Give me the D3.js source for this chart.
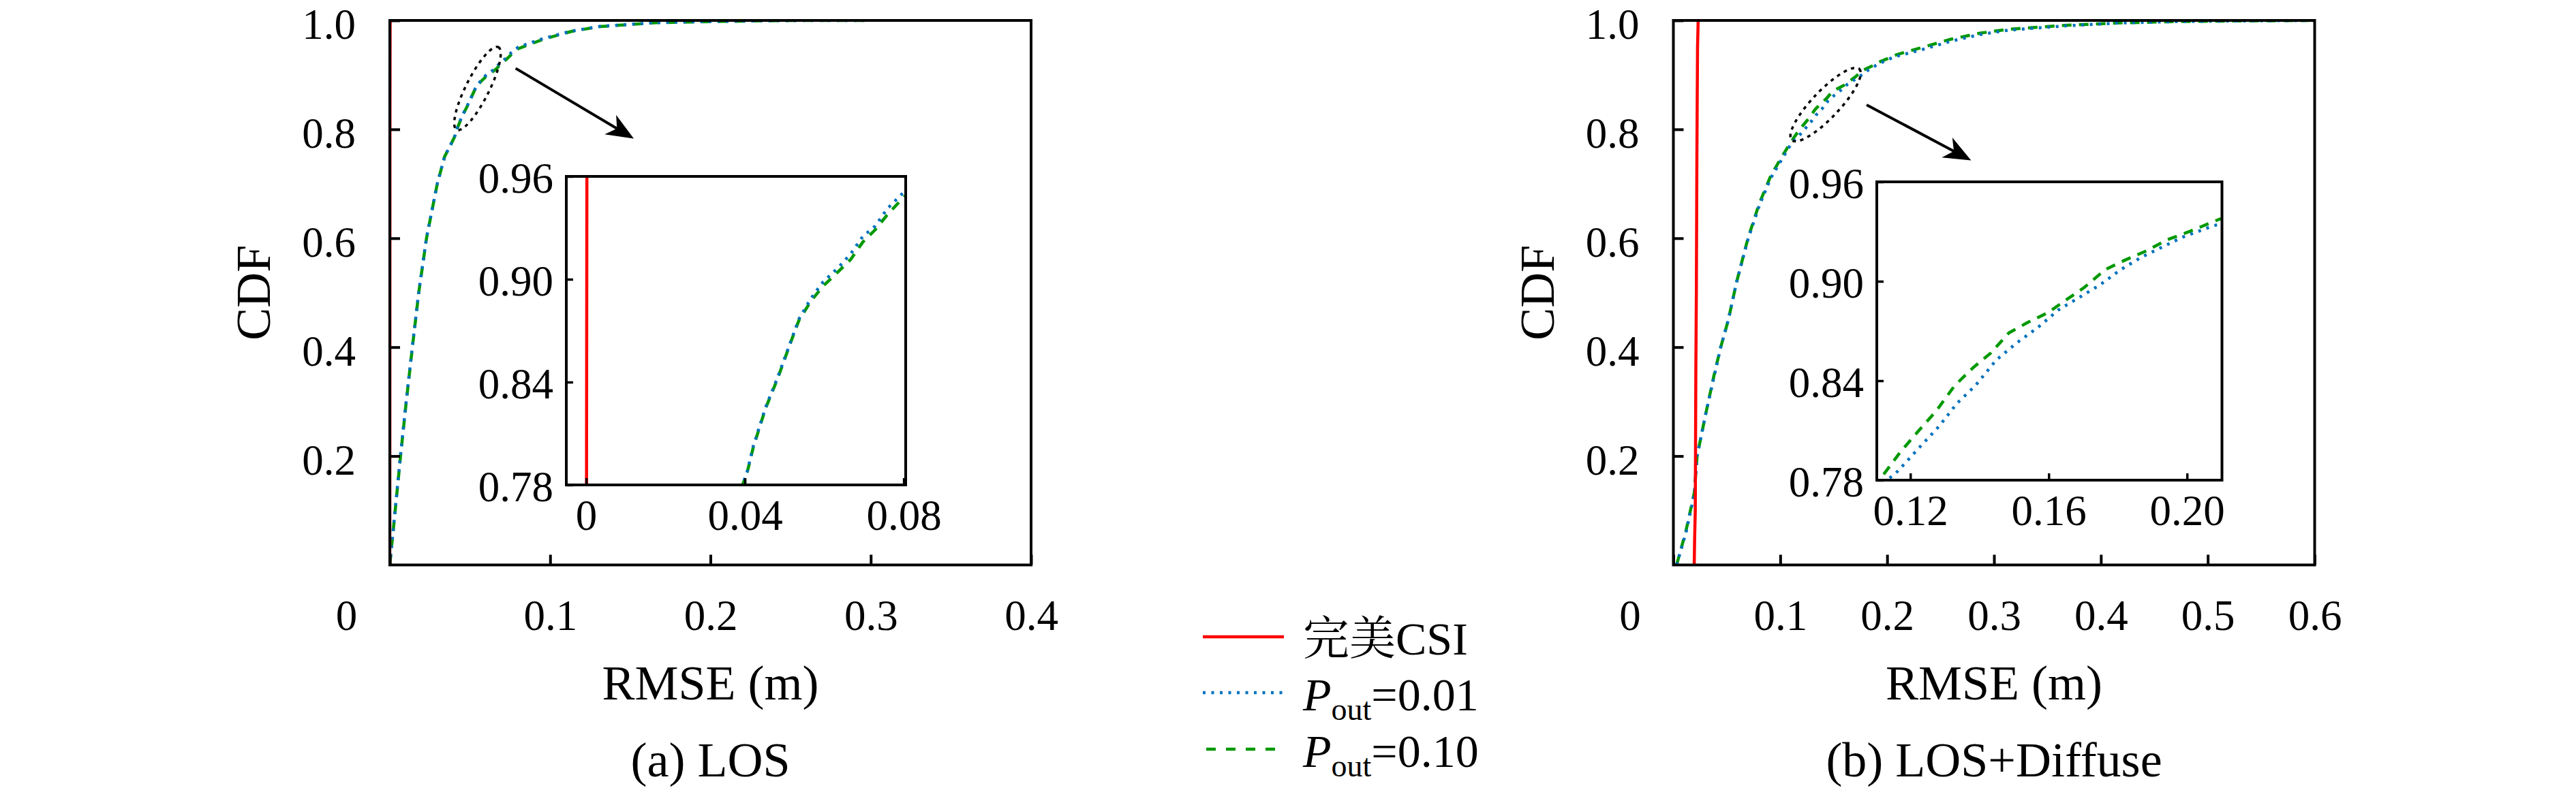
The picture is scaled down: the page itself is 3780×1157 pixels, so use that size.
<!DOCTYPE html>
<html>
<head>
<meta charset="utf-8">
<script src="https://cdn.jsdelivr.net/npm/d3@7/dist/d3.min.js"></script>
<style>
  body { margin: 0; background: #fff; }
  #chart text { font-family: "Liberation Serif", "Noto Serif CJK SC", serif; fill: #000; }
</style>
</head>
<body>
<svg id="chart" width="3780" height="1157"></svg>
<script>
// ---------- values ----------
const seriesLabels = ["完美CSI", "0.01", "0.10"];
const seriesColors = ["#ff0000", "#0072bd", "#009900"];

// (a) LOS
const losPerfectX = [0, 0.0001, 0.0002, 0.0003];
const losPerfectY = [0, 0.80, 0.99, 1.0];
const losP01X = [0, 0.001, 0.0035, 0.0067, 0.0102, 0.0141, 0.018, 0.0229, 0.0296, 0.0342, 0.0394, 0.0406, 0.0421, 0.0452, 0.0482, 0.0513, 0.0536, 0.0567, 0.0597, 0.0636, 0.0667, 0.0697, 0.0728, 0.0758, 0.0801, 0.0959, 0.1135, 0.131, 0.166, 0.2017, 0.237, 0.26, 0.30];
const losP01Y = [0, 0.03, 0.106, 0.202, 0.300, 0.402, 0.500, 0.601, 0.700, 0.750, 0.780, 0.7880, 0.8025, 0.8252, 0.8425, 0.8620, 0.8768, 0.8890, 0.8985, 0.9070, 0.9150, 0.9250, 0.9310, 0.9410, 0.9510, 0.9670, 0.9805, 0.9890, 0.9960, 0.9982, 0.9995, 1.0, 1.0];
const losP10X = [0, 0.001, 0.0035, 0.0067, 0.0102, 0.0141, 0.018, 0.0229, 0.0296, 0.0342, 0.0394, 0.0406, 0.0421, 0.0452, 0.0482, 0.0513, 0.0536, 0.0567, 0.0597, 0.0636, 0.0667, 0.0697, 0.0728, 0.0758, 0.0801, 0.0959, 0.1135, 0.131, 0.166, 0.2017, 0.237, 0.26, 0.30];
const losP10Y = [0, 0.03, 0.104, 0.200, 0.298, 0.400, 0.499, 0.600, 0.700, 0.750, 0.780, 0.7876, 0.8019, 0.8247, 0.8418, 0.8618, 0.8760, 0.8875, 0.8960, 0.9046, 0.9117, 0.9217, 0.9288, 0.9374, 0.9481, 0.9657, 0.9800, 0.9887, 0.9959, 0.9980, 0.9995, 1.0, 1.0];

// (b) LOS+Diffuse
const difPerfectX = [0.0195, 0.0199, 0.0205, 0.0210, 0.0215, 0.0220, 0.0226, 0.0232];
const difPerfectY = [0, 0.05, 0.10, 0.35, 0.50, 0.75, 0.95, 1.0];
const difP01X = [0.003, 0.0116, 0.0196, 0.0222, 0.0301, 0.038, 0.0443, 0.0513, 0.0592, 0.0698, 0.0804, 0.091, 0.1015, 0.1110, 0.1163, 0.1223, 0.1283, 0.1335, 0.1388, 0.1448, 0.1508, 0.1568, 0.1628, 0.1688, 0.1748, 0.1808, 0.1868, 0.1928, 0.1988, 0.2078, 0.2337, 0.26, 0.2866, 0.313, 0.366, 0.419, 0.472, 0.524, 0.60];
const difP01Y = [0, 0.058, 0.130, 0.200, 0.276, 0.345, 0.400, 0.449, 0.520, 0.598, 0.660, 0.710, 0.745, 0.776, 0.7853, 0.7990, 0.8125, 0.8264, 0.8370, 0.8524, 0.8629, 0.8720, 0.8827, 0.8902, 0.8978, 0.9070, 0.9145, 0.9206, 0.9267, 0.9336, 0.947, 0.962, 0.974, 0.982, 0.990, 0.9955, 0.998, 0.999, 1.0];
const difP10X = [0.003, 0.0116, 0.0196, 0.0222, 0.0301, 0.038, 0.0443, 0.0513, 0.0592, 0.0698, 0.0804, 0.091, 0.1015, 0.1124, 0.117, 0.1223, 0.1275, 0.1328, 0.138, 0.1433, 0.1485, 0.1538, 0.1598, 0.165, 0.1703, 0.1763, 0.1823, 0.1883, 0.1944, 0.2003, 0.2093, 0.2337, 0.26, 0.2866, 0.313, 0.366, 0.419, 0.472, 0.524, 0.60];
const difP10Y = [0, 0.061, 0.133, 0.200, 0.276, 0.348, 0.400, 0.449, 0.520, 0.600, 0.664, 0.714, 0.750, 0.7838, 0.7967, 0.8096, 0.8218, 0.8370, 0.8476, 0.8568, 0.8689, 0.8750, 0.8811, 0.8887, 0.8963, 0.9070, 0.9130, 0.9184, 0.9252, 0.9297, 0.9374, 0.951, 0.9657, 0.9765, 0.9837, 0.991, 0.9956, 0.998, 0.999, 1.0];

// axes / ticks
const cdfTicks = [0.2, 0.4, 0.6, 0.8, 1.0];
const losXTicks = [0, 0.1, 0.2, 0.3, 0.4];
const difXTicks = [0, 0.1, 0.2, 0.3, 0.4, 0.5, 0.6];
const insetYTicks = [0.78, 0.84, 0.90, 0.96];
const losInsetXTicks = [0, 0.04, 0.08];
const difInsetXTicks = [0.12, 0.16, 0.20];

// zoom annotations (centre in data units)
const losZoomMark = { cx: 0.0547, cy: 0.875, rx: 68, ry: 17, angle: -63.3, from: [0.0785, 0.912], to: [0.1522, 0.783] };
const difZoomMark = { cx: 0.1424, cy: 0.8455, rx: 72, ry: 20, angle: -46.5, from: [0.1808, 0.845], to: [0.2786, 0.743] };

// ---------- layout ----------
const W = 3780, H = 1157;
const plotTop = 30, plotBottom = 829.5;
const serif = '"Liberation Serif", "Noto Serif CJK SC", serif';
const lineStyles = [
  { dash: null, width: 4.5 },
  { dash: "4,8.5", width: 4.5 },
  { dash: "14,11", width: 4.5 }
];

const svg = d3.select("#chart").attr("font-family", serif);
svg.append("rect").attr("width", W).attr("height", H).attr("fill", "#fff");

const pts = (xs, ys) => d3.zip(xs, ys);

const panels = [
  {
    id: "a", left: 572, right: 1513, xDomain: [0, 0.4], xTicks: losXTicks, caption: "(a) LOS",
    series: [pts(losPerfectX, losPerfectY), pts(losP01X, losP01Y), pts(losP10X, losP10Y)],
    inset: { left: 831, right: 1329, top: 259, bottom: 712, xDomain: [-0.005, 0.0805], xTicks: losInsetXTicks },
    mark: losZoomMark
  },
  {
    id: "b", left: 2455.5, right: 3396.5, xDomain: [0, 0.6], xTicks: difXTicks, caption: "(b) LOS+Diffuse",
    series: [pts(difPerfectX, difPerfectY), pts(difP01X, difP01Y), pts(difP10X, difP10Y)],
    inset: { left: 2754, right: 3260.5, top: 267, bottom: 705, xDomain: [0.1103, 0.2101], xTicks: difInsetXTicks },
    mark: difZoomMark
  }
];

const fmt1 = d3.format(".1f");
const fmt2 = d3.format(".2f");
const mainXFmt = d => d === 0 ? "0" : fmt1(d);
const insetXFmt = d => d === 0 ? "0" : fmt2(d);

function drawCurves(g, x, y, series, clipId) {
  const line = d3.line().x(d => x(d[0])).y(d => y(d[1]));
  // green first, then blue, red on top
  [2, 1, 0].forEach(i => {
    g.append("path")
      .datum(series[i])
      .attr("clip-path", `url(#${clipId})`)
      .attr("d", line)
      .attr("fill", "none")
      .attr("stroke", seriesColors[i])
      .attr("stroke-width", lineStyles[i].width)
      .attr("stroke-dasharray", lineStyles[i].dash)
      .attr("stroke-linejoin", "round");
  });
}

function styleAxis(gAxis, strokeW) {
  gAxis.select(".domain").remove();
  gAxis.selectAll(".tick line").attr("stroke", "#000").attr("stroke-width", strokeW);
  gAxis.attr("font-family", serif).attr("font-size", null);
}

function arrow(g, x1, y1, x2, y2) {
  const L = 40, Wd = 33;
  const dx = x2 - x1, dy = y2 - y1, len = Math.hypot(dx, dy);
  const ux = dx / len, uy = dy / len, px = -uy, py = ux;
  const bx = x2 - ux * L, by = y2 - uy * L;
  const nx = x2 - ux * L * 0.72, ny = y2 - uy * L * 0.72;
  g.append("line")
    .attr("x1", x1).attr("y1", y1).attr("x2", nx).attr("y2", ny)
    .attr("stroke", "#000").attr("stroke-width", 4);
  g.append("path")
    .attr("d", `M${x2},${y2}L${bx + px * Wd / 2},${by + py * Wd / 2}L${nx},${ny}L${bx - px * Wd / 2},${by - py * Wd / 2}Z`)
    .attr("fill", "#000");
}

panels.forEach(p => {
  const g = svg.append("g").attr("class", "panel-" + p.id);
  const x = d3.scaleLinear().domain(p.xDomain).range([p.left, p.right]);
  const y = d3.scaleLinear().domain([0, 1]).range([plotBottom, plotTop]);

  const clipMain = "clip-main-" + p.id;
  svg.append("clipPath").attr("id", clipMain)
    .append("rect").attr("x", p.left).attr("y", plotTop - 2)
    .attr("width", p.right - p.left).attr("height", plotBottom - plotTop + 2);

  drawCurves(g, x, y, p.series, clipMain);

  // main axes
  const gx = g.append("g").attr("transform", `translate(0,${plotBottom})`)
    .call(d3.axisBottom(x).tickValues(p.xTicks).tickSize(-15).tickFormat(mainXFmt));
  styleAxis(gx, 4);
  gx.selectAll(".tick text")
    .attr("y", 95.5).attr("dy", null)
    .attr("font-size", 63)
    .attr("dx", d => d === 0 ? -64 : 0);

  const gy = g.append("g").attr("transform", `translate(${p.left},0)`)
    .call(d3.axisLeft(y).tickValues(cdfTicks).tickSize(-15).tickFormat(fmt1));
  styleAxis(gy, 4);
  gy.selectAll(".tick text")
    .attr("x", -50).attr("dy", "0.42em")
    .attr("font-size", 63);

  g.append("rect")
    .attr("x", p.left).attr("y", plotTop)
    .attr("width", p.right - p.left).attr("height", plotBottom - plotTop)
    .attr("fill", "none").attr("stroke", "#000").attr("stroke-width", 4);

  // axis titles
  const mid = (p.left + p.right) / 2;
  g.append("text")
    .attr("transform", `translate(${p.left - 176},${(plotTop + plotBottom) / 2}) rotate(-90)`)
    .attr("text-anchor", "middle").attr("font-size", 72).text("CDF");
  g.append("text")
    .attr("x", mid).attr("y", 1027).attr("text-anchor", "middle").attr("font-size", 72).text("RMSE (m)");
  g.append("text")
    .attr("x", mid).attr("y", 1140).attr("text-anchor", "middle").attr("font-size", 72).text(p.caption);

  // zoom ellipse + arrow
  const m = p.mark;
  g.append("ellipse")
    .attr("transform", `translate(${x(m.cx)},${y(m.cy)}) rotate(${m.angle})`)
    .attr("rx", m.rx).attr("ry", m.ry)
    .attr("fill", "none").attr("stroke", "#000").attr("stroke-width", 3.5)
    .attr("stroke-dasharray", "5,6.5");
  arrow(g, x(m.from[0]), y(m.from[1]), x(m.to[0]), y(m.to[1]));

  // inset
  const ins = p.inset;
  const ix = d3.scaleLinear().domain(ins.xDomain).range([ins.left, ins.right]);
  const iy = d3.scaleLinear().domain([0.78, 0.96]).range([ins.bottom, ins.top]);
  const gi = g.append("g").attr("class", "inset");
  gi.append("rect")
    .attr("x", ins.left).attr("y", ins.top)
    .attr("width", ins.right - ins.left).attr("height", ins.bottom - ins.top)
    .attr("fill", "#fff");
  const clipIns = "clip-inset-" + p.id;
  svg.append("clipPath").attr("id", clipIns)
    .append("rect").attr("x", ins.left).attr("y", ins.top)
    .attr("width", ins.right - ins.left).attr("height", ins.bottom - ins.top);
  drawCurves(gi, ix, iy, p.series, clipIns);

  const gix = gi.append("g").attr("transform", `translate(0,${ins.bottom})`)
    .call(d3.axisBottom(ix).tickValues(ins.xTicks).tickSize(-10).tickFormat(insetXFmt));
  styleAxis(gix, 3.5);
  gix.selectAll(".tick text").attr("y", 66).attr("dy", null).attr("font-size", 63);

  const giy = gi.append("g").attr("transform", `translate(${ins.left},0)`)
    .call(d3.axisLeft(iy).tickValues(insetYTicks).tickSize(-10).tickFormat(fmt2));
  styleAxis(giy, 3.5);
  giy.selectAll(".tick text").attr("x", -19).attr("dy", "0.38em").attr("font-size", 63);

  gi.append("rect")
    .attr("x", ins.left).attr("y", ins.top)
    .attr("width", ins.right - ins.left).attr("height", ins.bottom - ins.top)
    .attr("fill", "none").attr("stroke", "#000").attr("stroke-width", 4);
});

// ---------- legend ----------
const legend = svg.append("g").attr("class", "legend");
const legendRows = [935, 1017, 1100];
seriesLabels.forEach((lab, i) => {
  const yy = legendRows[i];
  legend.append("line")
    .attr("x1", 1765).attr("x2", 1884).attr("y1", yy).attr("y2", yy)
    .attr("stroke", seriesColors[i])
    .attr("stroke-width", lineStyles[i].width)
    .attr("stroke-dasharray", i === 1 ? "4,8.5" : (i === 2 ? "14,15" : null))
    .attr("stroke-dashoffset", i === 2 ? -5 : 0);
  const t = legend.append("text").attr("x", 1912).attr("y", yy + 26).attr("font-size", 68);
  if (i === 0) {
    t.text(lab);
  } else {
    t.append("tspan").attr("font-style", "italic").text("P");
    t.append("tspan").attr("font-size", 46).attr("dy", 14).text("out");
    t.append("tspan").attr("dy", -14).text("=" + lab);
  }
});
</script>
</body>
</html>
